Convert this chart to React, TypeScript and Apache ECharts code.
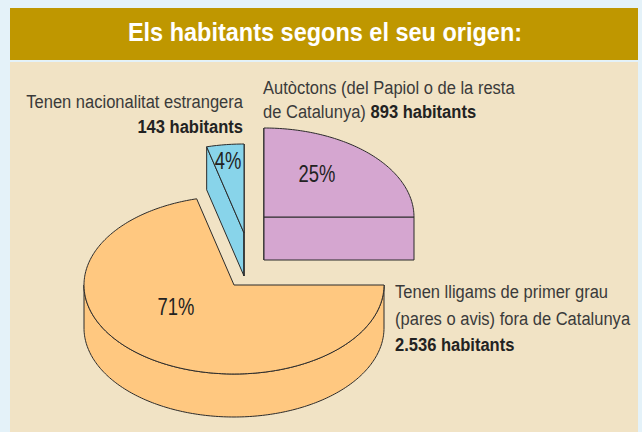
import React, { useEffect, useRef } from 'react';
import * as echarts from 'echarts';

// ---- data ----
const title = 'Els habitants segons el seu origen:';
const categories = [
  'Tenen lligams de primer grau (pares o avis) fora de Catalunya',
  'Tenen nacionalitat estrangera',
  'Autòctons (del Papiol o de la resta de Catalunya)',
];
const values = [2536, 143, 893];
const unitLabel = 'habitants';
const labelLines = [
  ['Tenen lligams de primer grau', '(pares o avis) fora de Catalunya'],
  ['Tenen nacionalitat estrangera'],
  ['Autòctons (del Papiol o de la resta', 'de Catalunya)'],
];

// ---- styles ----
const sliceColors = ['#ffc880', '#88d4ea', '#d5a6d0'];
const FONT = '"Liberation Sans", Arial, sans-serif';
const CX = 234, CY = 285, RX = 150, RY = 89, DEPTH = 43;
const explode = [[0, 0], [10, -52], [30, -68]];
const pctOffset = [[-58, 22], [-16, -72], [53, -43]];
const LABEL_SCALE = 0.87;

const fmt = (n: number) =>
  String(n).replace(/\B(?=(\d{3})+(?!\d))/g, '.') + ' ' + unitLabel;

export default function App() {
  const ref = useRef<HTMLDivElement>(null);
  useEffect(() => {
    if (!ref.current) return;
    const chart = echarts.init(ref.current, undefined, { renderer: 'svg' });
    const total = values.reduce((a, b) => a + b, 0);
    const stroke = '#2b2b2b';

    const renderItem = (params: any, api: any) => {
      const i = params.dataIndex;
      let before = 0;
      for (let k = 0; k < i; k++) before += values[k];
      const v = api.value(1);
      const a1 = (before / total) * 360;
      const a2 = ((before + v) / total) * 360;
      const cx = CX + explode[i][0];
      const cy = CY + explode[i][1];
      const rad = (d: number) => (d * Math.PI) / 180;
      const pt = (deg: number, dz = 0) => [cx + RX * Math.cos(rad(deg)), cy + RY * Math.sin(rad(deg)) + dz];
      const arc = (from: number, to: number, dz: number) => {
        const pts: number[][] = [];
        const n = Math.max(2, Math.ceil(Math.abs(to - from)));
        for (let s = 0; s <= n; s++) pts.push(pt(from + ((to - from) * s) / n, dz));
        return pts;
      };
      const style = { fill: sliceColors[i], stroke, lineWidth: 1, lineJoin: 'round' };
      const poly = (points: number[][]) => ({ type: 'polygon', shape: { points }, style });
      const children: any[] = [];
      if (Math.cos(rad(a1)) < 1e-6) children.push(poly([[cx, cy], pt(a1), pt(a1, DEPTH), [cx, cy + DEPTH]]));
      if (Math.cos(rad(a2)) > -1e-6) children.push(poly([[cx, cy], pt(a2), pt(a2, DEPTH), [cx, cy + DEPTH]]));
      const w1 = Math.max(a1, 0), w2 = Math.min(a2, 180);
      if (w2 > w1) children.push(poly([...arc(w1, w2, 0), ...arc(w2, w1, DEPTH)]));
      children.push(poly([[cx, cy], ...arc(a1, a2, 0)]));
      children.push({
        type: 'text',
        x: cx + pctOffset[i][0],
        y: cy + pctOffset[i][1],
        scaleX: 0.8,
        style: {
          text: Math.round((v / total) * 100) + '%',
          font: `23px ${FONT}`,
          fill: '#222',
          align: 'center',
          verticalAlign: 'middle',
          textAlign: 'center',
          textVerticalAlign: 'middle',
        },
      });
      return { type: 'group', children };
    };

    const txt = (x: number, y: number, text: string, align: string, bold = false, rich?: any) => ({
      type: 'text',
      x,
      y,
      scaleX: LABEL_SCALE,
      style: {
        text,
        font: `${bold ? 'bold ' : ''}19px ${FONT}`,
        fill: bold ? '#222' : '#3a3a3a',
        align,
        verticalAlign: 'middle',
        textAlign: align,
        textVerticalAlign: 'middle',
        rich,
      },
    });
    const boldRich = { b: { font: `bold 19px ${FONT}`, fill: '#222' } };

    chart.setOption({
      animation: false,
      backgroundColor: '#e4f2f9',
      graphic: [
        { type: 'rect', shape: { x: 10, y: 8, width: 628, height: 52 }, style: { fill: '#bf9700' }, z: 0 },
        { type: 'rect', shape: { x: 10, y: 62, width: 628, height: 370 }, style: { fill: '#f1e3c5' }, z: 0 },
        {
          type: 'text', x: 325, y: 32, z: 1, scaleX: 0.94,
          style: {
            text: title, font: `bold 25px ${FONT}`, fill: '#ffffff',
            align: 'center', verticalAlign: 'middle', textAlign: 'center', textVerticalAlign: 'middle',
          },
        },
        txt(243, 102, labelLines[1][0], 'right'),
        txt(243, 127, fmt(values[1]), 'right', true),
        txt(263, 88, labelLines[2][0], 'left'),
        txt(263, 112, labelLines[2][1] + ' {b|' + fmt(values[2]) + '}', 'left', false, boldRich),
        txt(395, 292, labelLines[0][0], 'left'),
        txt(395, 319, labelLines[0][1], 'left'),
        txt(395, 345, fmt(values[0]), 'left', true),
      ],
      series: [
        {
          type: 'custom',
          name: 'origen',
          coordinateSystem: 'none',
          silent: true,
          z: 5,
          data: values.map((v, i) => ({ name: categories[i], value: [i, v] })),
          renderItem,
        },
      ],
    });
    return () => chart.dispose();
  }, []);
  return <div ref={ref} style={{ position: 'fixed', left: 0, top: 0, width: 642, height: 432 }} />;
}
